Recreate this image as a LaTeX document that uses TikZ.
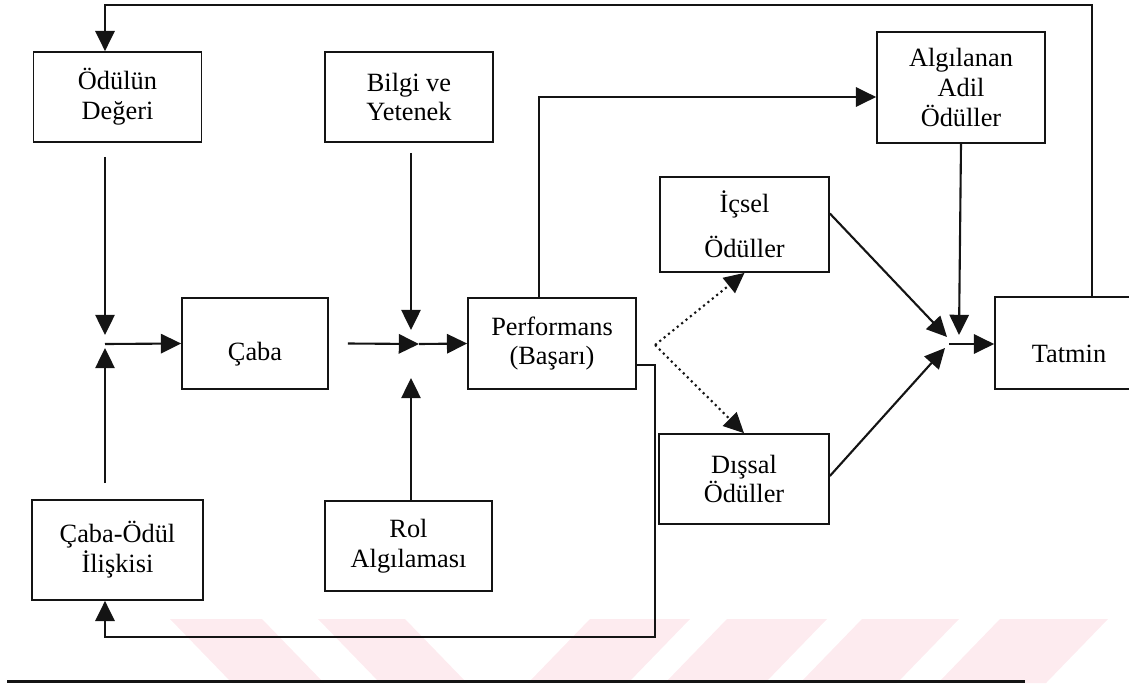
\documentclass[tikz,border=0pt]{standalone}
\usepackage{fontspec}
\setmainfont{Liberation Serif}
\usepackage{xcolor}
\definecolor{ink}{RGB}{20,20,20}
\definecolor{stamp}{RGB}{253,235,239}
\usepackage{tikz}
\usetikzlibrary{arrows.meta, calc, positioning}

\begin{document}
\begin{tikzpicture}[
        x=0.02cm, y=-0.02cm,
        box/.style={rectangle, draw=ink, line width=1pt, minimum width=#1, minimum height=1.8cm, align=center, inner sep=0pt, font=\fontsize{15pt}{17pt}\selectfont},
        box/.default=3.36cm,
        arrow/.style={-{Triangle[length=11.5pt, width=11pt]}, line width=1.2pt, ink},
        dots/.style={-{Triangle[length=11.5pt, width=11pt]}, line width=1.2pt, ink, dotted}
    ]
        \clip[use as bounding box] (0,0) rectangle (1129,683);

        % faint stamp behind the bottom rule
        \foreach \a/\b in {170/262, 318/405}
            \fill[stamp] (\a,619) -- (\b,619) -- (\b+62,683) -- (\a+62,683) -- cycle;
        \foreach \a/\b in {590/690, 727/827, 862/959, 1000/1108}
            \fill[stamp] (\a,619) -- (\b,619) -- (\b-62,683) -- (\a-62,683) -- cycle;

        \node[box] (odul) at (117.5,97) {Ödülün\\Değeri};
        \node[box] (bilgi) at (409,97) {Bilgi ve\\Yetenek};
        \node[box, minimum height=2.22cm] (algilanan) at (961,87.5) {Algılanan\\Adil\\Ödüller};
        \node[box=3.38cm, minimum height=1.9cm] (icsel) at (744.5,224.5) {İçsel\\[0.3cm]Ödüller};
        \node[box=2.92cm, minimum height=1.82cm] (caba) at (255,343.5) {\raisebox{-0.22cm}[\height][\depth]{Çaba}};
        \node[box, minimum height=1.82cm] (perf) at (552,343.5) {Performans\\(Başarı)};
        \node[box=2.96cm, minimum height=1.84cm] (tatmin) at (1069,343) {\raisebox{-0.22cm}[\height][\depth]{Tatmin}};
        \node[box=3.4cm] (dissal) at (744,479) {Dışsal\\Ödüller};
        \node[box=3.42cm, minimum height=2cm] (iliski) at (117.5,550) {Çaba-Ödül\\İlişkisi};
        \node[box=3.34cm] (rol) at (408.5,546) {Rol\\Algılaması};

        \coordinate (jA) at (105,344);
        \coordinate (jB) at (411,344);
        \coordinate (jC) at (949,344);
        \coordinate (split) at (655,345);
        \coordinate (upturn) at (539,97);
        \coordinate (topR) at (1092,5);
        \coordinate (topL) at (105,5);
        \coordinate (botL) at (105,637);

        % into Caba
        \draw[arrow] ($(odul.south -| jA)+(0,14)$) -- ($(jA)+(0,-9)$);
        \draw[arrow] ($(iliski.north -| jA)+(0,-16)$) -- ($(jA)+(0,4)$);
        \draw[arrow] (jA) -- (caba.west);

        % into Performans
        \draw[arrow] ($(caba.east)+(19,0)$) -- ($(jB)+(8,0)$);
        \draw[arrow] ($(jB)+(8,0)$) -- (perf.west);
        \draw[arrow] ($(bilgi.south -| jB)+(0,10)$) -- ($(jB)+(0,-14)$);
        \draw[arrow] (rol.north -| jB) -- ($(jB)+(0,34)$);

        % rewards
        \draw[arrow] (perf.north -| upturn) -- (upturn) -- (upturn -| algilanan.west);
        \draw[dots] (split) -- (icsel.south);
        \draw[dots] (split) -- (dissal.north);

        % into Tatmin
        \draw[arrow] ($(icsel.east)+(0,-11)$) -- ($(jC)+(-2,-7)$);
        \draw[arrow] ($(dissal.east)+(0,-3)$) -- ($(jC)+(-4,4)$);
        \draw[arrow] (algilanan.south) -- ($(jC)+(10,-9)$);
        \draw[arrow] (jC) -- (jC -| tatmin.west);

        % feedback loops
        \draw[arrow] (tatmin.north -| topR) -- (topR) -- (topL) -- (odul.north -| topL);
        \draw[arrow] ($(perf.east)+(0,21.5)$) -- ++(18,0) |- (botL) -- (iliski.south -| botL);

        \draw[ink, line width=1.7pt] (7,681) -- (1025,681);
    \end{tikzpicture}
\end{document}
